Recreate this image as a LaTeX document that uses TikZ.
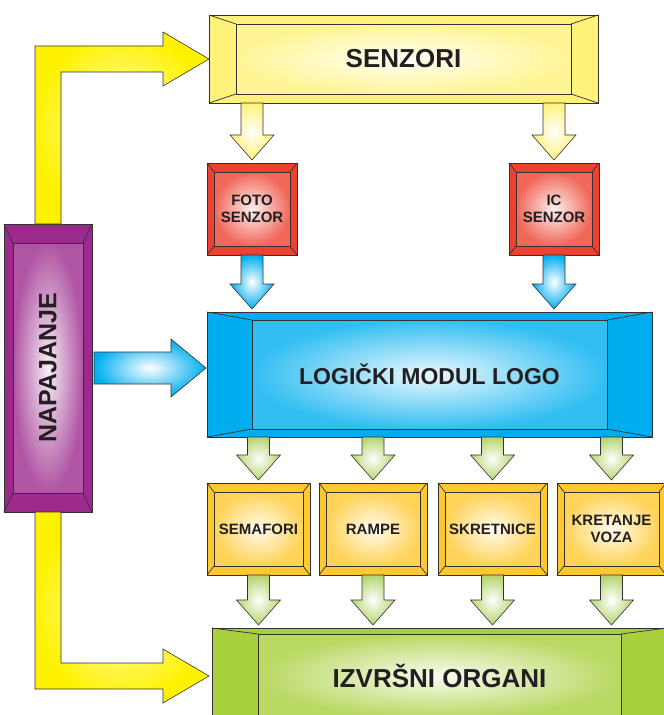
\documentclass[tikz,border=0pt]{standalone}
\usepackage{fontspec}
\setmainfont{Liberation Sans}
\usepackage{graphicx}
\usetikzlibrary{positioning,calc,backgrounds}

\definecolor{edge}{HTML}{333132}
\definecolor{txtcol}{HTML}{231F20}
\definecolor{senzcol}{HTML}{FFF27A}
\definecolor{fotocol}{HTML}{EE4130}
\definecolor{logcol}{HTML}{00AEEF}
\definecolor{napcol}{HTML}{9C2A8C}
\definecolor{izlcol}{HTML}{FFC82E}
\definecolor{izvcol}{HTML}{A8CF3C}
\definecolor{yelcol}{HTML}{FFF200}
\definecolor{grncol}{HTML}{B4D56E}

% bevelled frame behind a box node: node, bevel x, bevel y, colour
\newcommand{\bevel}[4]{%
\begin{scope}[on background layer]
\fill[#4, draw=edge, line width=0.7pt] (#1.north west) rectangle (#1.south east);
\shade[inner color=#4!8, outer color=#4!80, draw=edge, line width=0.7pt] ($(#1.north west)+(#2,#3)$) rectangle ($(#1.south east)+(-#2,-#3)$);
\draw[edge, line width=0.7pt] (#1.north west) -- ($(#1.north west)+(#2,#3)$)
  (#1.north east) -- ($(#1.north east)+(-#2,#3)$)
  (#1.south west) -- ($(#1.south west)+(#2,-#3)$)
  (#1.south east) -- ($(#1.south east)+(-#2,-#3)$);
\end{scope}}

% fat arrow pointing down: from, to, x of, style
\newcommand{\dnarrow}[4]{%
\path[#4] ($(#3 |- #1.south)+(-11,0)$) -- ($(#3 |- #2.north)+(-11,-28)$)
  -- ($(#3 |- #2.north)+(-22,-28)$) -- ($(#3 |- #2.north)+(0,-3)$)
  -- ($(#3 |- #2.north)+(22,-28)$) -- ($(#3 |- #2.north)+(11,-28)$)
  -- ($(#3 |- #1.south)+(11,0)$) -- cycle;}

\begin{document}
\begin{tikzpicture}[x=1pt, y=-1pt,
  box/.style={inner sep=0pt, outer sep=0pt, align=center, text=txtcol},
  fsz/.style={font=\bfseries\fontsize{#1}{17}\selectfont},
  arr/.style={shade, draw=edge, line width=0.6pt, inner color=white, outer color=#1}]
\useasboundingbox (0,0) rectangle (664,715);

% boxes
\node[box, fsz=26, minimum width=389, minimum height=88] (senz) at (403.5,59) {SENZORI};
\bevel{senz}{27}{9}{senzcol}
\node[box, fsz=15, minimum width=90, minimum height=92] (foto) at (252,209) {FOTO\\SENZOR};
\bevel{foto}{7}{9}{fotocol}
\node[box, fsz=15, minimum width=90, minimum height=92] (ic) at (554,209) {IC\\SENZOR};
\bevel{ic}{7}{9}{fotocol}
\node[box, fsz=23, minimum width=445, minimum height=125] (logic) at (429.5,374.5) {LOGIČKI MODUL LOGO};
\bevel{logic}{45}{8}{logcol}
\node[box, fsz=25, minimum width=88, minimum height=288] (napaj) at (48,368) {\rotatebox{90}{NAPAJANJE}};
\bevel{napaj}{9}{19}{napcol}
\node[box, fsz=15, minimum width=103, minimum height=92] (semaf) at (258.5,529) {SEMAFORI};
\bevel{semaf}{7}{9}{izlcol}
\node[box, fsz=15, minimum width=108, minimum height=92] (rampe) at (373,529) {RAMPE};
\bevel{rampe}{7}{9}{izlcol}
\node[box, fsz=15, minimum width=109, minimum height=92] (skret) at (492.5,529) {SKRETNICE};
\bevel{skret}{7}{9}{izlcol}
\node[box, fsz=15, minimum width=109, minimum height=92] (kret) at (611.5,529) {KRETANJE\\VOZA};
\bevel{kret}{7}{9}{izlcol}
\node[box, fsz=26, minimum width=455, minimum height=96] (izv) at (439.5,676) {IZVRŠNI ORGANI};
\bevel{izv}{46}{6}{izvcol}

% arrows
\dnarrow{senz}{foto}{foto.north}{arr=senzcol}
\dnarrow{senz}{ic}{ic.north}{arr=senzcol}
\dnarrow{foto}{logic}{foto.south}{arr=logcol}
\dnarrow{ic}{logic}{ic.south}{arr=logcol}
\dnarrow{logic}{semaf}{semaf.north}{arr=grncol}
\dnarrow{logic}{rampe}{rampe.north}{arr=grncol}
\dnarrow{logic}{skret}{skret.north}{arr=grncol}
\dnarrow{logic}{kret}{kret.north}{arr=grncol}
\dnarrow{semaf}{izv}{semaf.south}{arr=grncol}
\dnarrow{rampe}{izv}{rampe.south}{arr=grncol}
\dnarrow{skret}{izv}{skret.south}{arr=grncol}
\dnarrow{kret}{izv}{kret.south}{arr=grncol}

\path[arr=logcol] ($(napaj.east)+(2,-16)$) -- ($(logic.west |- napaj.east)+(-36,-16)$)
  -- ($(logic.west |- napaj.east)+(-36,-29)$) -- ($(logic.west |- napaj.east)+(-1,0)$)
  -- ($(logic.west |- napaj.east)+(-36,29)$) -- ($(logic.west |- napaj.east)+(-36,16)$)
  -- ($(napaj.east)+(2,16)$) -- cycle;

%\draw (kt) node {$\bullet$};
\coordinate (kt) at (napaj.north |- senz.west);
\coordinate (kb) at (napaj.south |- izv.west);
\path[arr=yelcol, inner color=yelcol!20] ($(napaj.north)+(-13,0)$) -- ($(kt)+(-13,-13)$)
  -- ($(senz.west)+(-46,-13)$) -- ($(senz.west)+(-46,-27)$) -- (senz.west)
  -- ($(senz.west)+(-46,27)$) -- ($(senz.west)+(-46,13)$) -- ($(kt)+(13,13)$)
  -- ($(napaj.north)+(13,0)$) -- cycle;
\path[arr=yelcol, inner color=yelcol!20] ($(napaj.south)+(-13,0)$) -- ($(kb)+(-13,13)$)
  -- ($(izv.west)+(-49,13)$) -- ($(izv.west)+(-49,27)$) -- ($(izv.west)+(-3,0)$)
  -- ($(izv.west)+(-49,-27)$) -- ($(izv.west)+(-49,-13)$) -- ($(kb)+(13,-13)$)
  -- ($(napaj.south)+(13,0)$) -- cycle;
\end{tikzpicture}
\end{document}
